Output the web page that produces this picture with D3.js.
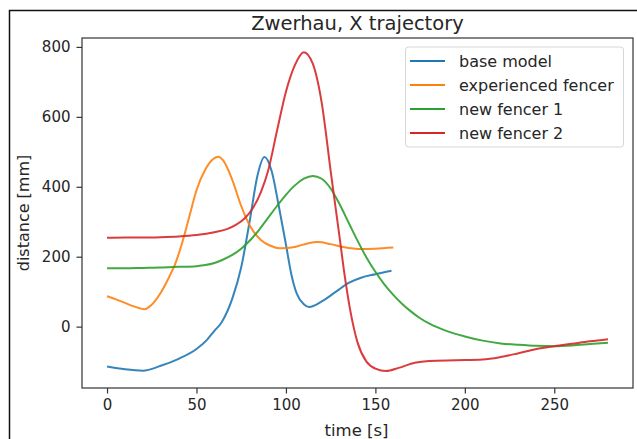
<!DOCTYPE html>
<html>
<head>
<meta charset="utf-8">
<script src="https://cdn.jsdelivr.net/npm/d3@7"></script>
<style>
  body { margin: 0; background: #fff; }
  svg text { font-family: "DejaVu Sans", sans-serif; fill: #262626; }
</style>
</head>
<body>
<svg id="chart" width="637" height="439"></svg>
<script>
// values, [time s, distance mm]
var baseModel = [[0,-114],[10,-122],[20,-126],[30,-112],[40,-92],[50,-64],[56,-37],[60,-12],[64,12],
    [70,80],[75,170],[80,310],[84,430],[88,485],[92,445],[96,345],[100,235],[103,150],[106,95],
    [110,64],[113,56],[120,72],[128,100],[135,125],[142,140],[150,150],[159,160]];
var experienced = [[0,87],[5,78],[10,68],[15,58],[21,50],[25,63],[30,97],[35,145],[38,178],[42,240],
    [46,315],[50,390],[55,450],[59,478],[62,486],[65,475],[70,420],[75,345],[80,287],[86,248],
    [91,232],[97,224],[105,228],[112,238],[118,242],[125,236],[132,228],[142,222],[150,223],[160,226]];
var newFencer1 = [[0,167],[10,167],[20,168],[30,169],[40,171],[50,173],[55,176],[60,182],[65,192],
    [70,205],[75,223],[80,247],[85,277],[90,311],[95,345],[100,377],[105,404],[110,423],[115,431],
    [120,423],[125,395],[130,350],[135,298],[140,246],[145,198],[150,157],[155,121],[160,91],
    [165,65],[170,43],[175,24],[180,9],[190,-13],[200,-28],[210,-40],[220,-48],[230,-52],
    [240,-55],[250,-56],[260,-54],[270,-50],[280,-46]];
var newFencer2 = [[0,254],[10,255],[20,255],[30,256],[40,258],[50,262],[60,270],[67,279],[72,291],
    [77,310],[81,335],[86,385],[90,445],[95,560],[100,672],[105,748],[110,785],[115,752],[120,640],
    [125,445],[130,255],[133,140],[136,45],[140,-45],[145,-100],[150,-120],[156,-127],[163,-118],
    [172,-103],[180,-98],[195,-96],[210,-94],[220,-87],[230,-76],[240,-64],[250,-56],[260,-49],
    [270,-42],[280,-36]];

var seriesNames = ["base model", "experienced fencer", "new fencer 1", "new fencer 2"];
var seriesData = [baseModel, experienced, newFencer1, newFencer2];
var colors = ["#1f77b4", "#ff7f0e", "#2ca02c", "#d62728"];
var xTicks = [0, 50, 100, 150, 200, 250];
var yTicks = [0, 200, 400, 600, 800];

var svg = d3.select("#chart");
var box = {left: 82, right: 633, top: 38, bottom: 388};

// outer frame of the screenshot
svg.append("path")
    .attr("d", "M9.5,439 V10.5 H637")
    .attr("fill", "none")
    .attr("stroke", "#111")
    .attr("stroke-width", 1.5);

var x = d3.scaleLinear().domain([-14, 294]).range([box.left, box.right]);
var y = d3.scaleLinear().domain([-175.5, 825.5]).range([box.bottom, box.top]);

var line = d3.line()
    .x(function(d) { return x(d[0]); })
    .y(function(d) { return y(d[1]); })
    .curve(d3.curveMonotoneX);

var plot = svg.append("g");
plot.selectAll(".series")
    .data(seriesData)
    .enter().append("path")
    .attr("class", "series")
    .attr("d", line)
    .attr("fill", "none")
    .attr("stroke", function(d, i) { return colors[i]; })
    .attr("stroke-width", 2)
    .attr("stroke-opacity", 0.9)
    .attr("stroke-linejoin", "round");

// axes
var xAxis = svg.append("g")
    .attr("transform", "translate(0," + box.bottom + ")")
    .call(d3.axisBottom(x).tickValues(xTicks).tickSize(5.5).tickPadding(6).tickSizeOuter(0));
var yAxis = svg.append("g")
    .attr("transform", "translate(" + box.left + ",0)")
    .call(d3.axisLeft(y).tickValues(yTicks).tickSize(5.5).tickPadding(6).tickSizeOuter(0));
[xAxis, yAxis].forEach(function(a) {
    a.select(".domain").remove();
    a.selectAll("line").attr("stroke", "#333").attr("stroke-width", 1.2);
    a.selectAll("text").style("font-size", "15px").style("font-family", "DejaVu Sans").attr("fill", "#262626");
});

svg.append("rect")
    .attr("x", box.left).attr("y", box.top)
    .attr("width", box.right - box.left).attr("height", box.bottom - box.top)
    .attr("fill", "none")
    .attr("stroke", "#333")
    .attr("stroke-width", 1.2);

// title and labels
var midX = (box.left + box.right) / 2;
svg.append("text")
    .attr("x", midX).attr("y", 29.5)
    .attr("text-anchor", "middle")
    .style("font-size", "19.5px")
    .text("Zwerhau, X trajectory");
svg.append("text")
    .attr("x", midX - 1).attr("y", 436)
    .attr("text-anchor", "middle")
    .style("font-size", "16.5px")
    .text("time [s]");
svg.append("text")
    .attr("transform", "translate(29," + ((box.top + box.bottom) / 2) + ") rotate(-90)")
    .attr("text-anchor", "middle")
    .style("font-size", "16px")
    .text("distance [mm]");

// legend
var legend = svg.append("g");
legend.append("rect")
    .attr("x", 405.5).attr("y", 47)
    .attr("width", 218).attr("height", 100)
    .attr("rx", 3)
    .attr("fill", "#fff").attr("fill-opacity", 0.85)
    .attr("stroke", "#d6d6d6");
var rows = legend.selectAll(".row")
    .data(seriesNames)
    .enter().append("g")
    .attr("class", "row")
    .attr("transform", function(d, i) { return "translate(0," + (61 + i * 24) + ")"; });
rows.append("line")
    .attr("x1", 410).attr("x2", 445)
    .attr("stroke", function(d, i) { return colors[i]; })
    .attr("stroke-width", 2);
rows.append("text")
    .attr("x", 459).attr("dy", "0.35em")
    .style("font-size", "16px")
    .text(function(d) { return d; });
</script>
</body>
</html>
